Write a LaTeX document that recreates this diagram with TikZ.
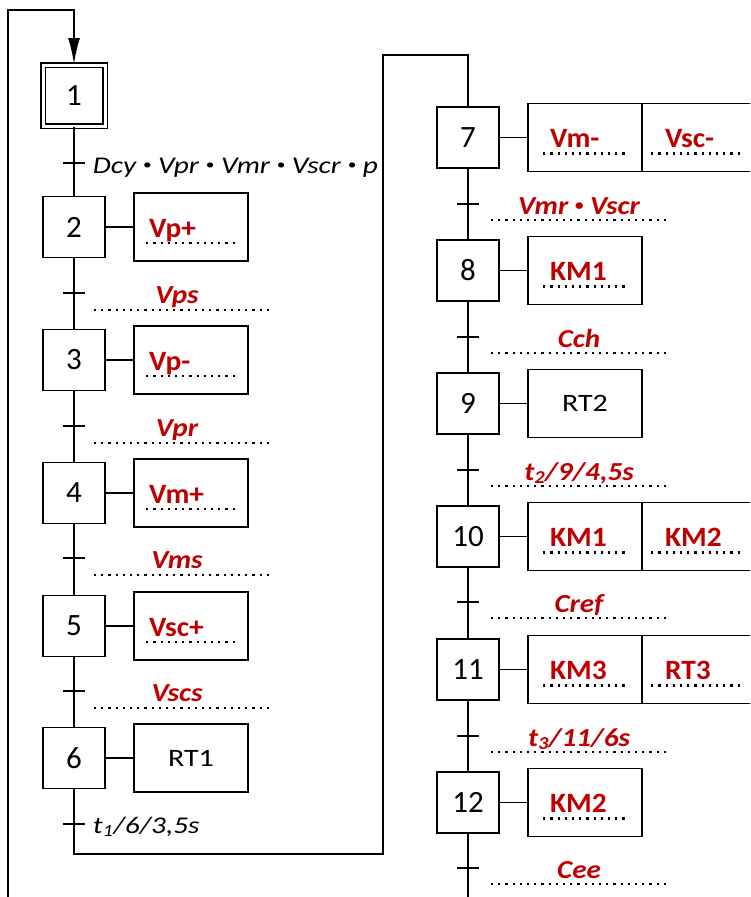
\documentclass[tikz,border=0pt]{standalone}
\usepackage{fontspec}
\usepackage{graphicx}
\setmainfont{Carlito}
\newfontfamily\widefont[FakeStretch=1.2]{Carlito}
\newfontfamily\condfont[FakeStretch=1.22]{Carlito}
\newfontfamily\redfont[FakeStretch=1.05]{Carlito}
\newfontfamily\recfont[FakeStretch=1.12]{Carlito}
\newcommand{\gbul}{\raisebox{0.15em}{\scalebox{0.6}{•}}}
\usepackage{tikz}
\usetikzlibrary{positioning,arrows.meta,calc}
\definecolor{recred}{RGB}{192,0,0}

\begin{document}
\begin{tikzpicture}[x=1pt, y=-1pt, line width=1.8pt, >={Latex[length=26pt, width=12pt]},
  etape/.style={draw, fill=white, minimum width=62pt, minimum height=61pt, inner sep=0pt, font=\fontsize{31}{31}\selectfont},
  act/.style={draw, minimum width=114pt, minimum height=68pt, inner sep=0pt, font=\widefont\fontsize{25}{25}\selectfont},
  ord/.style={anchor=base west, inner sep=0pt, text=recred, font=\redfont\fontsize{28}{28}\selectfont\bfseries},
  recep/.style={anchor=base, inner sep=0pt, text=recred, font=\recfont\fontsize{26}{26}\selectfont\bfseries\itshape},
  cond/.style={anchor=base west, inner sep=0pt, font=\condfont\fontsize{24}{24}\selectfont\itshape},
  dotline/.style={line width=2.2pt, dash pattern=on 2.2pt off 5pt}]
\useasboundingbox (0,0) rectangle (750,897);
\clip (0,0) rectangle (750,897);

% left column: steps 1 to 6
\node[etape, double, double distance=3pt] (s1) at (74,95.5) {1};
\node[etape] (s2) at (74,227) {2};
\node[etape] (s3) at (74,360) {3};
\node[etape] (s4) at (74,493) {4};
\node[etape] (s5) at (74,626) {5};
\node[etape] (s6) at (74,758) {6};
\draw (s1) -- (s2) -- (s3) -- (s4) -- (s5) -- (s6);

% right column: steps 7 to 12
\node[etape] (s7) at (468,137.5) {7};
\node[etape] (s8) at (468,270.5) {8};
\node[etape] (s9) at (468,403.5) {9};
\node[etape] (s10) at (468,536.5) {10};
\node[etape] (s11) at (468,669.5) {11};
\node[etape] (s12) at (468,802.5) {12};
\draw (s7) -- (s8) -- (s9) -- (s10) -- (s11) -- (s12);

% loops
\coordinate (bot1) at (8,900); \coordinate (top1) at (8,10);
\draw[->] (bot1) -- (top1) -| (s1);
\coordinate (r1) at (383,854); \coordinate (r2) at (468,55);
\draw (s6) |- (r1) |- (r2) -- (s7);
\coordinate (bot2) at (468,900);
\draw (s12) -- (bot2);

% actions, left
\node[act] (a2) at (191,227) {}; \draw (s2) -- (a2);
\node[ord] (o2) at ($(a2.west)+(15,10)$) {Vp+};
\draw[dotline] ($(a2.west)+(13,16)$) -- ++(91,0);
\node[act] (a3) at (191,360) {}; \draw (s3) -- (a3);
\node[ord] (o3) at ($(a3.west)+(15,10)$) {Vp-};
\draw[dotline] ($(a3.west)+(13,16)$) -- ++(91,0);
\node[act] (a4) at (191,493) {}; \draw (s4) -- (a4);
\node[ord] (o4) at ($(a4.west)+(15,10)$) {Vm+};
\draw[dotline] ($(a4.west)+(13,16)$) -- ++(91,0);
\node[act] (a5) at (191,626) {}; \draw (s5) -- (a5);
\node[ord] (o5) at ($(a5.west)+(15,10)$) {Vsc+};
\draw[dotline] ($(a5.west)+(13,16)$) -- ++(91,0);
\node[act] (a6) at (191,758) {RT1}; \draw (s6) -- (a6);

% actions, right
\node[act] (a7) at (585,137.5) {}; \draw (s7) -- (a7);
\node[act] (b7) at (699,137.5) {};
\node[ord] (o7) at ($(a7.west)+(22,10)$) {Vm-};
\draw[dotline] ($(a7.west)+(16,16)$) -- ++(84,0);
\node[ord] (p7) at ($(b7.west)+(23,10)$) {Vsc-};
\draw[dotline] ($(b7.west)+(10,16)$) -- ++(90,0);
\node[act] (a8) at (585,270.5) {}; \draw (s8) -- (a8);
\node[ord] (o8) at ($(a8.west)+(22,10)$) {KM1};
\draw[dotline] ($(a8.west)+(16,16)$) -- ++(84,0);
\node[act] (a9) at (585,403.5) {RT2}; \draw (s9) -- (a9);
\node[act] (a10) at (585,536.5) {}; \draw (s10) -- (a10);
\node[act] (b10) at (699,536.5) {};
\node[ord] (o10) at ($(a10.west)+(22,10)$) {KM1};
\draw[dotline] ($(a10.west)+(16,16)$) -- ++(84,0);
\node[ord] (p10) at ($(b10.west)+(23,10)$) {KM2};
\draw[dotline] ($(b10.west)+(10,16)$) -- ++(90,0);
\node[act] (a11) at (585,669.5) {}; \draw (s11) -- (a11);
\node[act] (b11) at (699,669.5) {};
\node[ord] (o11) at ($(a11.west)+(22,10)$) {KM3};
\draw[dotline] ($(a11.west)+(16,16)$) -- ++(84,0);
\node[ord] (p11) at ($(b11.west)+(23,10)$) {RT3};
\draw[dotline] ($(b11.west)+(10,16)$) -- ++(90,0);
\node[act] (a12) at (585,802.5) {}; \draw (s12) -- (a12);
\node[ord] (o12) at ($(a12.west)+(22,10)$) {KM2};
\draw[dotline] ($(a12.west)+(16,16)$) -- ++(84,0);

% transitions, left
\coordinate (t1) at (74,163); \draw (t1) ++(-11,0) -- ++(22,0);
\node[cond] (c1) at ($(t1)+(18,10)$) {Dcy \gbul{} Vpr \gbul{} Vmr \gbul{} Vscr \gbul{} p};
\coordinate (t2) at (74,293); \draw (t2) ++(-11,0) -- ++(22,0);
\node[recep] (c2) at ($(t2)+(103,10)$) {Vps};
\draw[dotline] ($(t2)+(20,17)$) -- ++(178,0);
\coordinate (t3) at (74,426); \draw (t3) ++(-11,0) -- ++(22,0);
\node[recep] (c3) at ($(t3)+(103,10)$) {Vpr};
\draw[dotline] ($(t3)+(20,17)$) -- ++(178,0);
\coordinate (t4) at (74,558); \draw (t4) ++(-11,0) -- ++(22,0);
\node[recep] (c4) at ($(t4)+(103,10)$) {Vms};
\draw[dotline] ($(t4)+(20,17)$) -- ++(178,0);
\coordinate (t5) at (74,691); \draw (t5) ++(-11,0) -- ++(22,0);
\node[recep] (c5) at ($(t5)+(103,10)$) {Vscs};
\draw[dotline] ($(t5)+(20,17)$) -- ++(178,0);
\coordinate (t6) at (74,824); \draw (t6) ++(-11,0) -- ++(22,0);
\node[cond] (c6) at ($(t6)+(18,9)$) {t\textsubscript{1}/6/3,5s};

% transitions, right
\coordinate (t7) at (468,204); \draw (t7) ++(-11,0) -- ++(22,0);
\node[recep] (c7) at ($(t7)+(111,10)$) {Vmr \gbul{} Vscr};
\draw[dotline] ($(t7)+(23,16)$) -- ++(177,0);
\coordinate (t8) at (468,337); \draw (t8) ++(-11,0) -- ++(22,0);
\node[recep] (c8) at ($(t8)+(111,10)$) {Cch};
\draw[dotline] ($(t8)+(23,16)$) -- ++(177,0);
\coordinate (t9) at (468,470); \draw (t9) ++(-11,0) -- ++(22,0);
\node[recep] (c9) at ($(t9)+(111,10)$) {t\textsubscript{2}/9/4,5s};
\draw[dotline] ($(t9)+(23,16)$) -- ++(177,0);
\coordinate (t10) at (468,602); \draw (t10) ++(-11,0) -- ++(22,0);
\node[recep] (c10) at ($(t10)+(111,10)$) {Cref};
\draw[dotline] ($(t10)+(23,16)$) -- ++(177,0);
\coordinate (t11) at (468,736); \draw (t11) ++(-11,0) -- ++(22,0);
\node[recep] (c11) at ($(t11)+(111,10)$) {t\textsubscript{3}/11/6s};
\draw[dotline] ($(t11)+(23,16)$) -- ++(177,0);
\coordinate (t12) at (468,868); \draw (t12) ++(-11,0) -- ++(22,0);
\node[recep] (c12) at ($(t12)+(111,10)$) {Cee};
\draw[dotline] ($(t12)+(23,16)$) -- ++(177,0);
\end{tikzpicture}
\end{document}
